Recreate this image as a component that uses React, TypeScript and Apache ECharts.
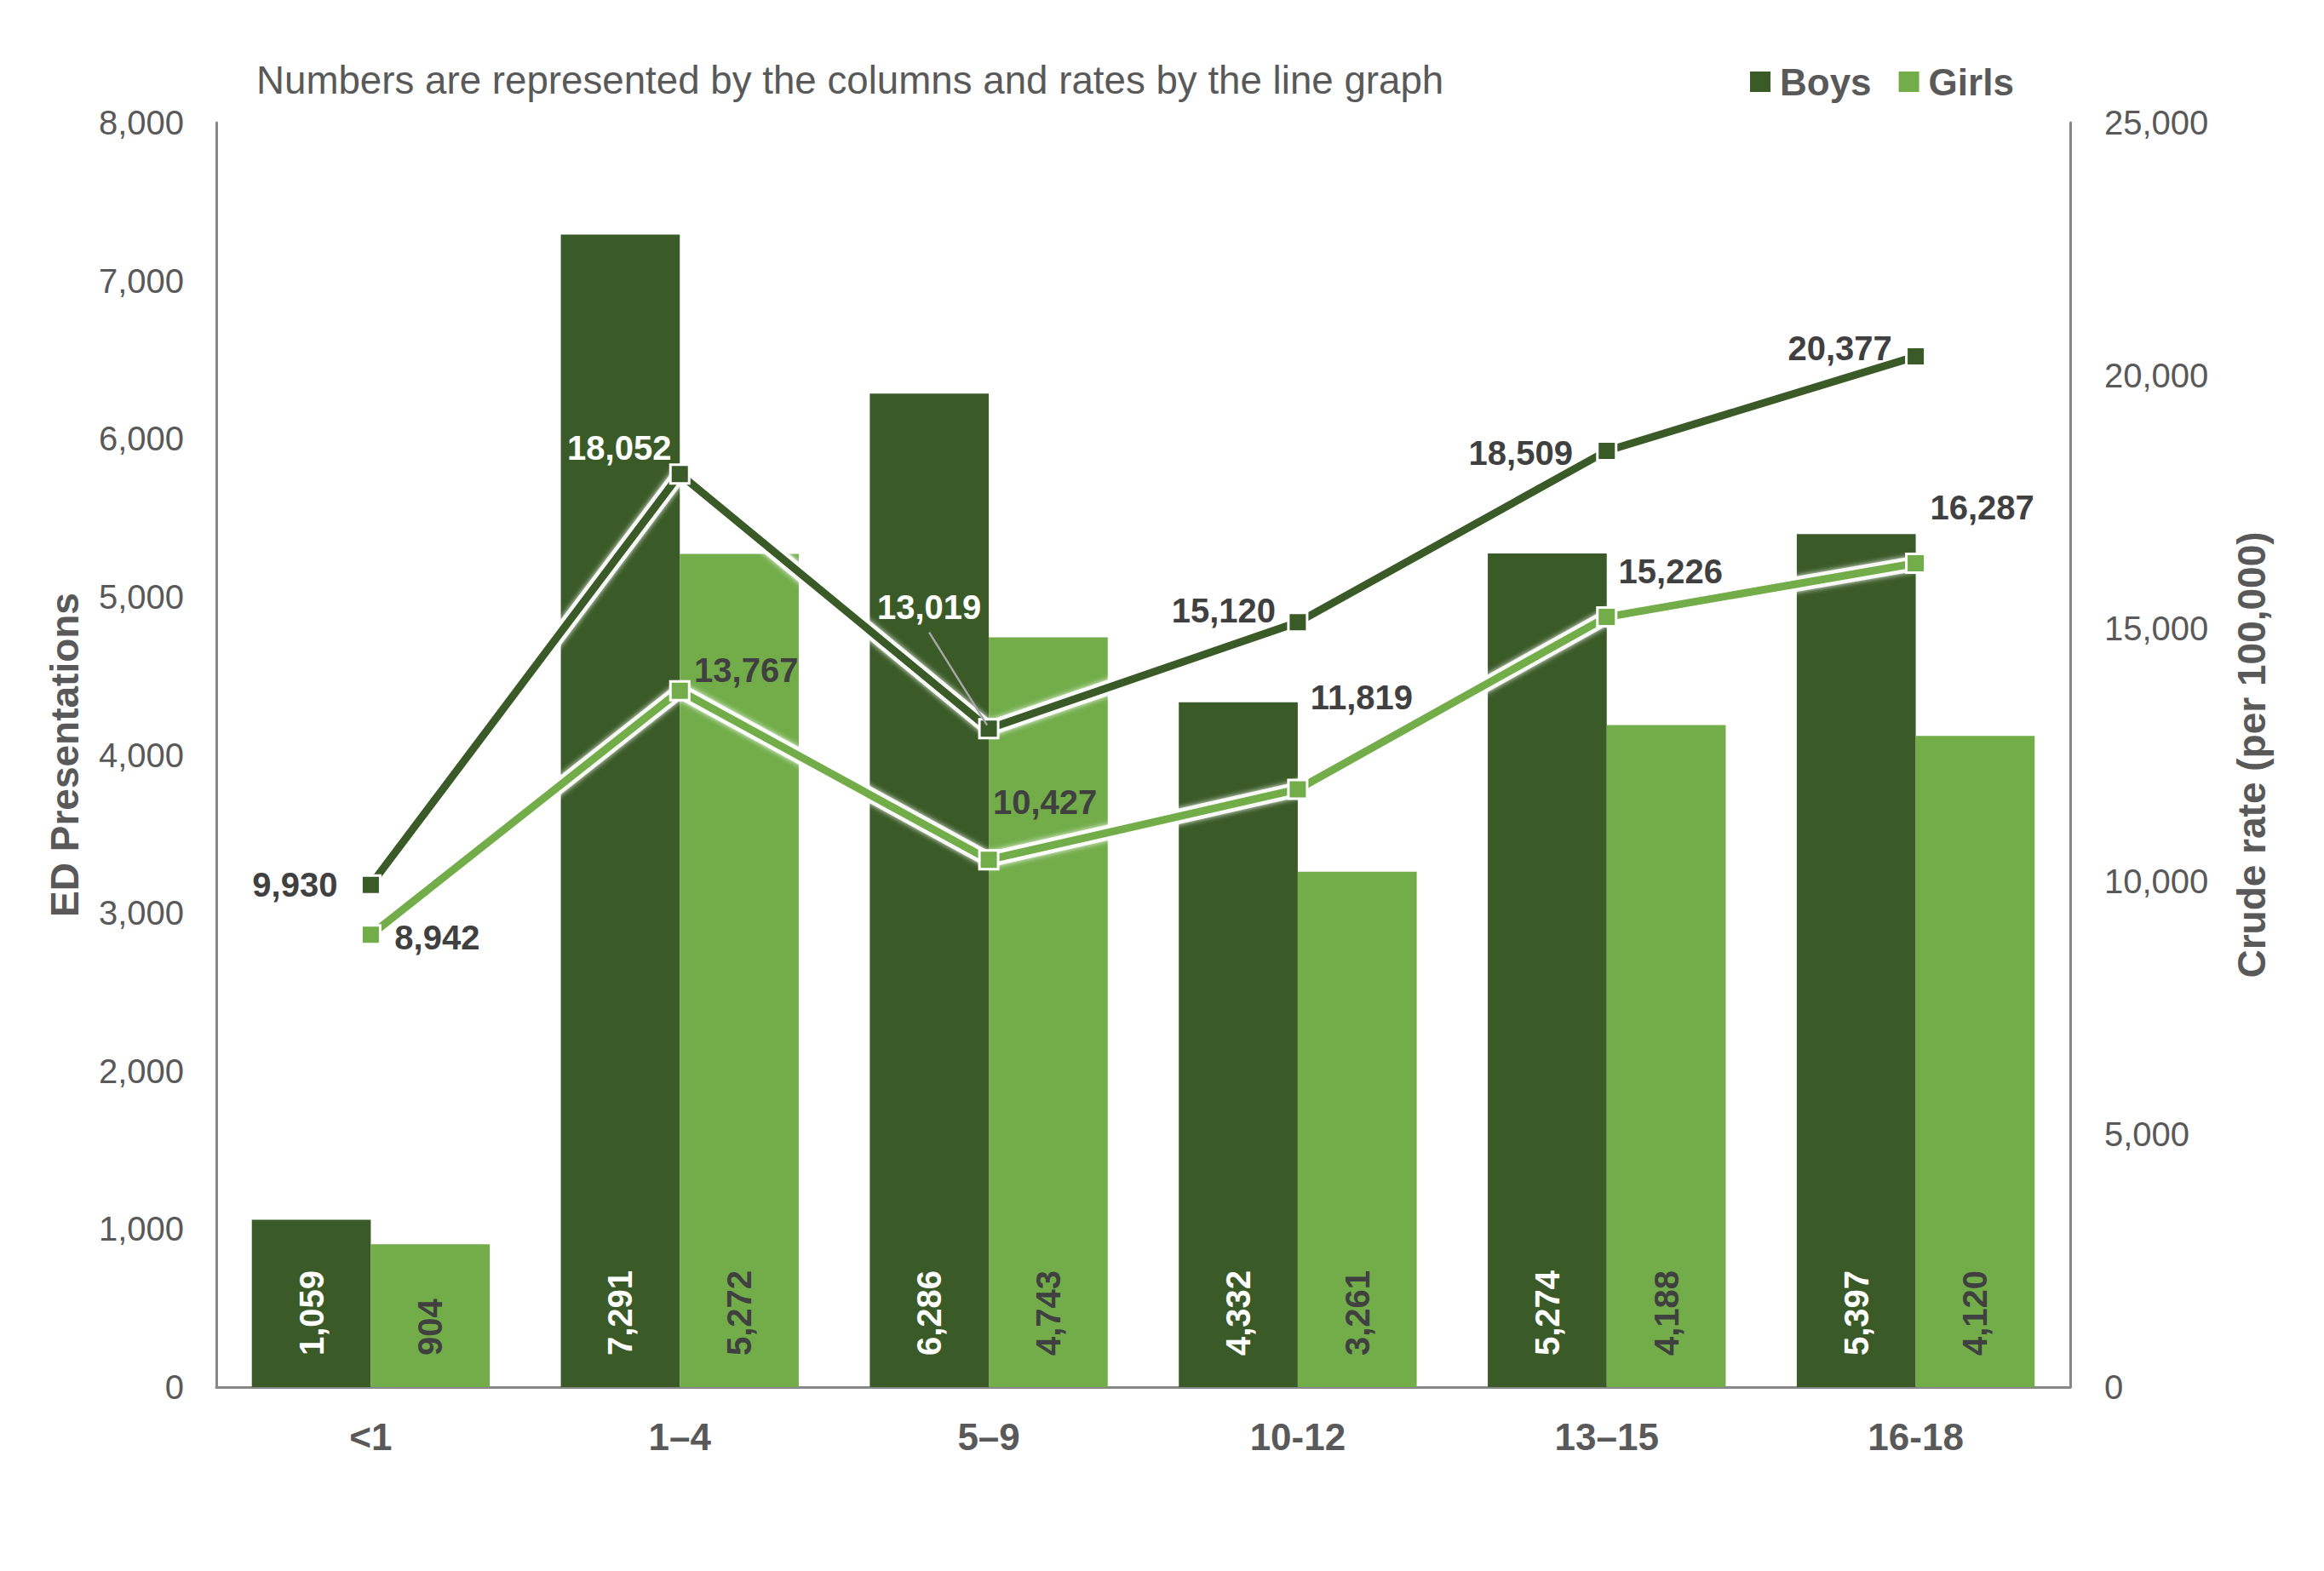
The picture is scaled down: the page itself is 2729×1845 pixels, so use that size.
import React, { useEffect, useRef } from "react";
import * as echarts from "echarts";

const categories = ["<1", "1–4", "5–9", "10-12", "13–15", "16-18"];
const boysCount = [1059, 7291, 6286, 4332, 5274, 5397];
const girlsCount = [904, 5272, 4743, 3261, 4188, 4120];
const boysRate = [9930, 18052, 13019, 15120, 18509, 20377];
const girlsRate = [8942, 13767, 10427, 11819, 15226, 16287];
const leftTicks = { min: 0, max: 8000, interval: 1000 };
const rightTicks = { min: 0, max: 25000, interval: 5000 };

const DARK = "#3A5A27";
const LIGHT = "#72AD4A";
const GREY = "#595959";
const LABEL = "#404040";
const FONT = "'Liberation Sans', Arial, sans-serif";

const boysLabelOffsets = [[-89, 0], [-71, -31], [-70, -143], [-87, -14], [-101, 2], [-89, -10]];
const boysLabelColors = [LABEL, "#ffffff", "#ffffff", LABEL, LABEL, LABEL];
const girlsLabelOffsets = [[78, 3], [78, -24], [66, -68], [75, -108], [75, -54], [78, -66]];

const fmt = (v: number) => v.toLocaleString("en-US");

export default function App() {
  const ref = useRef<HTMLDivElement>(null);
  useEffect(() => {
    document.body.style.margin = "0";
    const chart = echarts.init(ref.current!, null, { renderer: "svg" });
    const lineLabel = (off: number[], color: string) => ({
      show: true,
      position: "inside",
      align: "center",
      verticalAlign: "middle",
      offset: off,
      color,
      fontSize: 40,
      fontWeight: "bold",
      fontFamily: FONT,
      formatter: (p: any) => fmt(p.value),
    });
    const barLabel = (color: string) => ({
      show: true,
      position: "insideBottom",
      rotate: 90,
      align: "left",
      verticalAlign: "middle",
      distance: 37,
      color,
      fontSize: 40,
      fontWeight: "bold",
      fontFamily: FONT,
      formatter: (p: any) => fmt(p.value),
    });
    const glow = (name: string, data: number[], z: number) => ({
      name,
      type: "line",
      yAxisIndex: 1,
      data,
      symbol: "none",
      silent: true,
      lineStyle: { color: "rgba(255,255,255,0.9)", width: 18, shadowColor: "rgba(255,255,255,1)", shadowBlur: 6 },
      z,
    });
    const axisLine = { show: true, lineStyle: { color: "#878787", width: 3 } };
    chart.setOption({
      animation: false,
      backgroundColor: "#ffffff",
      textStyle: { fontFamily: FONT },
      title: {
        text: "Numbers are represented by the columns and rates by the line graph",
        left: 296,
        top: 66,
        textStyle: { color: GREY, fontSize: 45.7, fontWeight: "normal", fontFamily: FONT },
      },
      legend: {
        data: [
          { name: "Boys", icon: "rect" },
          { name: "Girls", icon: "rect" },
        ],
        left: 2050,
        top: 69,
        itemWidth: 24,
        itemHeight: 24,
        itemGap: 32,
        textStyle: { color: GREY, fontSize: 44, fontWeight: "bold", fontFamily: FONT, padding: [0, 0, 0, 6] },
      },
      grid: { left: 254, right: 298, top: 144, bottom: 216, containLabel: false },
      xAxis: {
        type: "category",
        data: categories,
        axisLine,
        axisTick: { show: false },
        axisLabel: { color: GREY, fontSize: 44, fontWeight: "bold", margin: 36, fontFamily: FONT },
      },
      yAxis: [
        {
          type: "value",
          ...leftTicks,
          name: "ED Presentations",
          nameLocation: "middle",
          nameGap: 155,
          nameTextStyle: { color: GREY, fontSize: 46, fontWeight: "bold", fontFamily: FONT },
          axisLine,
          axisTick: { show: false },
          splitLine: { show: false },
          axisLabel: { color: GREY, fontSize: 40, margin: 38, fontFamily: FONT, formatter: fmt },
        },
        {
          type: "value",
          ...rightTicks,
          name: "Crude rate (per 100,000)",
          nameLocation: "middle",
          nameGap: 190,
          nameRotate: 90,
          nameTextStyle: { color: GREY, fontSize: 46, fontWeight: "bold", fontFamily: FONT },
          axisLine,
          axisTick: { show: false },
          splitLine: { show: false },
          axisLabel: { color: GREY, fontSize: 40, margin: 40, fontFamily: FONT, formatter: fmt },
        },
      ],
      series: [
        {
          name: "Boys",
          type: "bar",
          yAxisIndex: 0,
          data: boysCount,
          barGap: "0%",
          barCategoryGap: "23%",
          itemStyle: { color: DARK },
          label: barLabel("#ffffff"),
          z: 2,
        },
        {
          name: "Girls",
          type: "bar",
          yAxisIndex: 0,
          data: girlsCount,
          barGap: "0%",
          barCategoryGap: "23%",
          itemStyle: { color: LIGHT },
          label: barLabel(LABEL),
          z: 2,
        },
        glow("Girls glow", girlsRate, 3),
        {
          name: "Girls rate",
          type: "line",
          yAxisIndex: 1,
          data: girlsRate.map((v, i) => ({ value: v, label: lineLabel(girlsLabelOffsets[i], LABEL) })),
          symbol: "rect",
          symbolSize: 22,
          lineStyle: { color: LIGHT, width: 9 },
          itemStyle: { color: LIGHT, borderColor: "#ffffff", borderWidth: 3 },
          z: 4,
        },
        glow("Boys glow", boysRate, 5),
        {
          name: "Boys rate",
          type: "line",
          yAxisIndex: 1,
          data: boysRate.map((v, i) => ({ value: v, label: lineLabel(boysLabelOffsets[i], boysLabelColors[i]) })),
          symbol: "rect",
          symbolSize: 22,
          lineStyle: { color: DARK, width: 9 },
          itemStyle: { color: DARK, borderColor: "#ffffff", borderWidth: 3 },
          z: 6,
        },
      ],
    });
    const p = chart.convertToPixel({ xAxisIndex: 0, yAxisIndex: 1 }, [2, boysRate[2]]) as number[];
    if (p && isFinite(p[0])) {
      chart.setOption({
        graphic: [
          {
            type: "line",
            z: 100,
            shape: { x1: p[0] - 70, y1: p[1] - 113, x2: p[0] - 2, y2: p[1] - 4 },
            style: { stroke: "#a6a6a6", lineWidth: 2.5 },
          },
        ],
      });
    }
    return () => chart.dispose();
  }, []);
  return <div ref={ref} style={{ position: "fixed", left: 0, top: 0, width: 2729, height: 1845 }} />;
}
